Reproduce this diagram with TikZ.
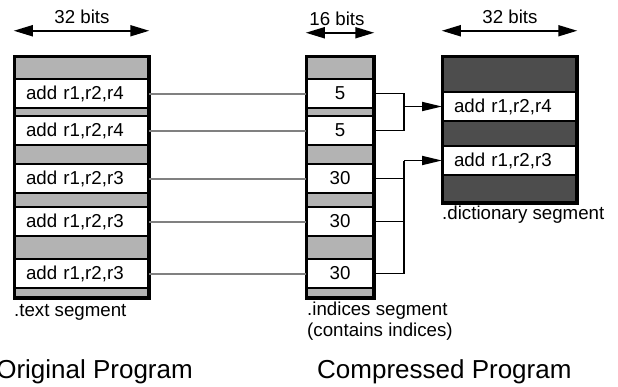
\documentclass[tikz,border=0pt]{standalone}
\usepackage{fontspec}
\setmainfont{Liberation Sans}
\usetikzlibrary{arrows.meta}
\definecolor{lgray}{HTML}{B3B3B3}
\definecolor{dgray}{HTML}{4D4D4D}
\definecolor{cgray}{HTML}{808080}
\begin{document}
\begin{tikzpicture}[x=1pt,y=-1pt,
  txt/.style={font=\fontsize{18.7}{21}\selectfont, inner sep=0pt},
  bigtxt/.style={font=\fontsize{26}{30}\selectfont, inner sep=0pt},
  segbox/.style={draw=black, line width=2.5pt, inner sep=0pt},
  rowbox/.style={draw=black, fill=white, line width=2pt, minimum height=29pt, inner sep=0pt,
    font=\fontsize{18.7}{21}\selectfont},
  widerow/.style={rowbox, minimum width=133pt, text width=111pt, inner xsep=11pt, align=left},
  narrowrow/.style={rowbox, minimum width=66pt, align=center},
  graylink/.style={draw=cgray, line width=2pt},
  blacklink/.style={draw=black, line width=1.8pt},
  dimarrow/.style={draw=black, line width=1.8pt, {Triangle[length=19pt,width=11pt]}-{Triangle[length=19pt,width=11pt]}},
  ptr/.style={draw=black, line width=1.8pt, -{Triangle[length=20pt,width=9pt]}}
]
\useasboundingbox (0,0) rectangle (618,386);

% segment outlines
\node[segbox, fill=lgray, minimum width=133pt, minimum height=240pt] (tseg) at (81.5,177) {};
\node[segbox, fill=lgray, minimum width=66pt, minimum height=240pt] (iseg) at (340,177) {};
\node[segbox, fill=dgray, minimum width=133pt, minimum height=145pt] (dseg) at (509.5,129.5) {};

% text segment rows
\node[widerow] (t1) at (81.5,93.5) {add r1,r2,r4};
\node[widerow] (t2) at (81.5,130.5) {add r1,r2,r4};
\node[widerow] (t3) at (81.5,178.5) {add r1,r2,r3};
\node[widerow] (t4) at (81.5,221.5) {add r1,r2,r3};
\node[widerow] (t5) at (81.5,273.5) {add r1,r2,r3};

% indices rows
\node[narrowrow] (i1) at (340,93.5) {5};
\node[narrowrow] (i2) at (340,130.5) {5};
\node[narrowrow] (i3) at (340,178.5) {30};
\node[narrowrow] (i4) at (340,221.5) {30};
\node[narrowrow] (i5) at (340,273.5) {30};

% dictionary rows
\node[widerow] (d1) at (509.5,106.5) {add r1,r2,r4};
\node[widerow] (d2) at (509.5,160.5) {add r1,r2,r3};

% redraw outlines on top
\draw[segbox] (tseg.north west) rectangle (tseg.south east);
\draw[segbox] (iseg.north west) rectangle (iseg.south east);
\draw[segbox] (dseg.north west) rectangle (dseg.south east);

% gray links
\foreach \k in {1,...,5} {\draw[graylink] (t\k.east) -- (i\k.west);}

% black links to dictionary
\coordinate (j1) at (404,106.5);
\coordinate (j2) at (404,160.5);
\draw[blacklink] (i1.east) -| (j1) |- (i2.east);
\draw[ptr] (j1) -- (d1.west);
\draw[blacklink] (i3.east) -- (i3.east -| j2);
\draw[blacklink] (i4.east) -- (i4.east -| j2);
\draw[blacklink] (j2) |- (i5.east);
\draw[ptr] (j2) -- (d2.west);

% width labels
\node[txt] (w1) at (82,17) {32 bits};
\node[txt] (w2) at (337,19) {16 bits};
\node[txt] (w3) at (510,17) {32 bits};
\draw[dimarrow] ([yshift=25pt]tseg.north west) -- ([yshift=25pt]tseg.north east);
\draw[dimarrow] ([yshift=23pt]iseg.north west) -- ([yshift=23pt]iseg.north east);
\draw[dimarrow] ([yshift=25pt]dseg.north west) -- ([yshift=25pt]dseg.north east);

% segment labels
\node[txt, anchor=west] (lt) at (14,312) {.text segment};
\node[txt, anchor=west] (li) at (307,311) {.indices segment};
\node[txt, anchor=west] (li2) at (307,332) {(contains indices)};
\node[txt, anchor=west] (ld) at (442,215) {.dictionary segment};

% titles
\node[bigtxt, anchor=base east] (orig) at (193,378) {Original Program};
\node[bigtxt, anchor=base west] (comp) at (317,378) {Compressed Program};
\end{tikzpicture}
\end{document}
